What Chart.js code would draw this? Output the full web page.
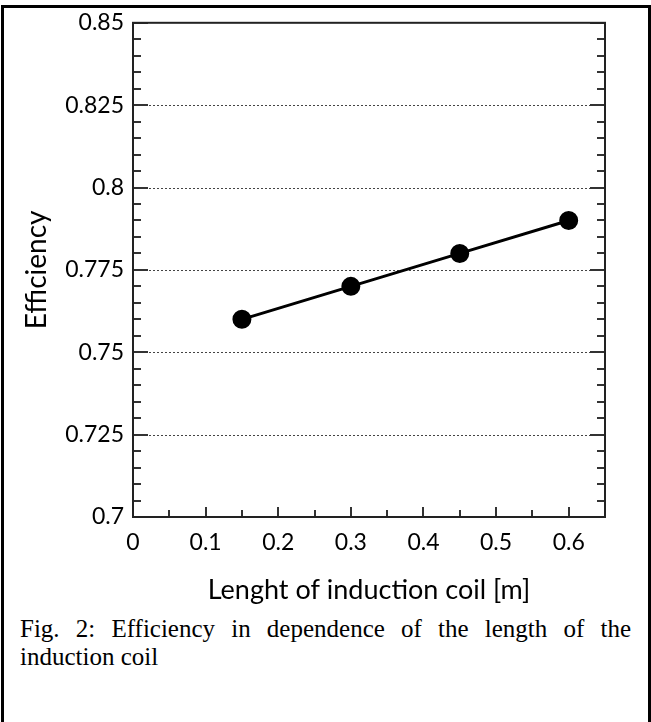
<!DOCTYPE html>
<html>
<head>
<meta charset="utf-8">
<script src="https://cdn.jsdelivr.net/npm/chart.js@4.4.0/dist/chart.umd.min.js"></script>
<style>
  html, body { margin: 0; padding: 0; background: #fff; }
  body { width: 651px; height: 722px; position: relative; overflow: hidden; }
  #frame { position: absolute; left: 1px; top: 5px; width: 644px; height: 760px; border: 3px solid #000; border-bottom: none; }
  #chart { position: absolute; left: 0; top: 0; }
  #caption {
    position: absolute; left: 20px; top: 615px; width: 611px;
    font-family: "Liberation Serif", "Times New Roman", serif; font-size: 25px; line-height: 28px;
    text-align: justify; color: #000;
  }
</style>
</head>
<body>
<div id="frame"></div>
<canvas id="chart" width="651" height="610"></canvas>
<div id="caption">Fig. 2: Efficiency in dependence of the length of the induction coil</div>
<script>
// Efficiency vs. coil length
const LENGTHS = [0.15, 0.3, 0.45, 0.6];
const EFFICIENCY = [0.76, 0.77, 0.78, 0.79];
const X_TICKS = [0, 0.1, 0.2, 0.3, 0.4, 0.5, 0.6];
const Y_TICKS = [0.7, 0.725, 0.75, 0.775, 0.8, 0.825, 0.85];
const X_MIN = 0, X_MAX = 0.65, X_MINOR = 0.05;
const Y_MIN = 0.7, Y_MAX = 0.85, Y_MINOR = 0.005;

const TICK_FONT = { family: 'Lato', size: 23 };

// ── Frame, dotted grid and inward ticks ─────────────────────────
const boxTicks = {
  id: 'boxTicks',
  beforeDatasetsDraw(chart) {
    const { ctx, chartArea: a, scales: { x, y } } = chart;
    const seg = (x1, y1, x2, y2) => { ctx.beginPath(); ctx.moveTo(x1, y1); ctx.lineTo(x2, y2); ctx.stroke(); };
    ctx.save();

    // dotted gridlines at major y ticks (not on the frame)
    ctx.strokeStyle = '#444';
    ctx.lineWidth = 1;
    ctx.setLineDash([2, 2]);
    Y_TICKS.slice(1, -1).forEach(v => {
      const py = Math.round(y.getPixelForValue(v)) + 0.5;
      seg(a.left, py, a.right, py);
    });
    ctx.setLineDash([]);

    // y ticks, left and right, pointing inward
    ctx.strokeStyle = '#333';
    ctx.lineWidth = 2;
    const ySteps = Math.round((Y_MAX - Y_MIN) / Y_MINOR);
    for (let i = 0; i <= ySteps; i++) {
      const py = Math.round(y.getPixelForValue(Y_MIN + i * Y_MINOR));
      const len = i % 5 === 0 ? 15 : 8;
      seg(a.left, py, a.left + len, py);
      seg(a.right, py, a.right - len, py);
    }

    // x ticks, bottom only
    const xSteps = Math.round((X_MAX - X_MIN) / X_MINOR);
    for (let i = 0; i <= xSteps; i++) {
      const px = Math.round(x.getPixelForValue(X_MIN + i * X_MINOR));
      const len = i % 2 === 0 ? 10 : 7;
      seg(px, a.bottom, px, a.bottom - len);
    }

    // plot frame
    ctx.strokeStyle = '#222';
    ctx.lineWidth = 2;
    ctx.strokeRect(a.left, a.top, a.right - a.left, a.bottom - a.top);
    ctx.restore();
  }
};

new Chart(document.getElementById('chart'), {
  type: 'line',
  data: {
    datasets: [{
      data: LENGTHS.map((v, i) => ({ x: v, y: EFFICIENCY[i] })),
      borderColor: '#000',
      backgroundColor: '#000',
      borderWidth: 3,
      pointRadius: 8,
      pointHoverRadius: 8,
      tension: 0,
    }]
  },
  options: {
    responsive: false,
    animation: false,
    layout: { padding: { left: 0, top: 22, right: 46, bottom: 0 } },
    plugins: { legend: { display: false }, tooltip: { enabled: false } },
    scales: {
      x: {
        type: 'linear', min: X_MIN, max: X_MAX,
        grid: { display: false, drawTicks: false },
        border: { display: false },
        afterBuildTicks: s => { s.ticks = X_TICKS.map(v => ({ value: v })); },
        afterFit: s => { s.height = 93; },
        ticks: { padding: 12, color: '#000', font: TICK_FONT, maxRotation: 0, autoSkip: false,
                 callback: v => String(+(+v).toFixed(2)) },
        title: { display: true, text: 'Lenght of induction coil [m]', color: '#000',
                 font: { family: 'Lato', size: 27 }, padding: { top: 0, bottom: 4 } }
      },
      y: {
        type: 'linear', min: Y_MIN, max: Y_MAX,
        grid: { display: false, drawTicks: false },
        border: { display: false },
        afterBuildTicks: s => { s.ticks = Y_TICKS.map(v => ({ value: v })); },
        afterFit: s => { s.width = 133; },
        ticks: { padding: 9, color: '#000', font: TICK_FONT, autoSkip: false,
                 callback: v => String(+(+v).toFixed(3)) },
        title: { display: true, text: 'Efficiency', color: '#000',
                 font: { family: 'Lato', size: 28 }, padding: { top: 20, bottom: 0 } }
      }
    }
  },
  plugins: [boxTicks]
});
</script>
</body>
</html>
